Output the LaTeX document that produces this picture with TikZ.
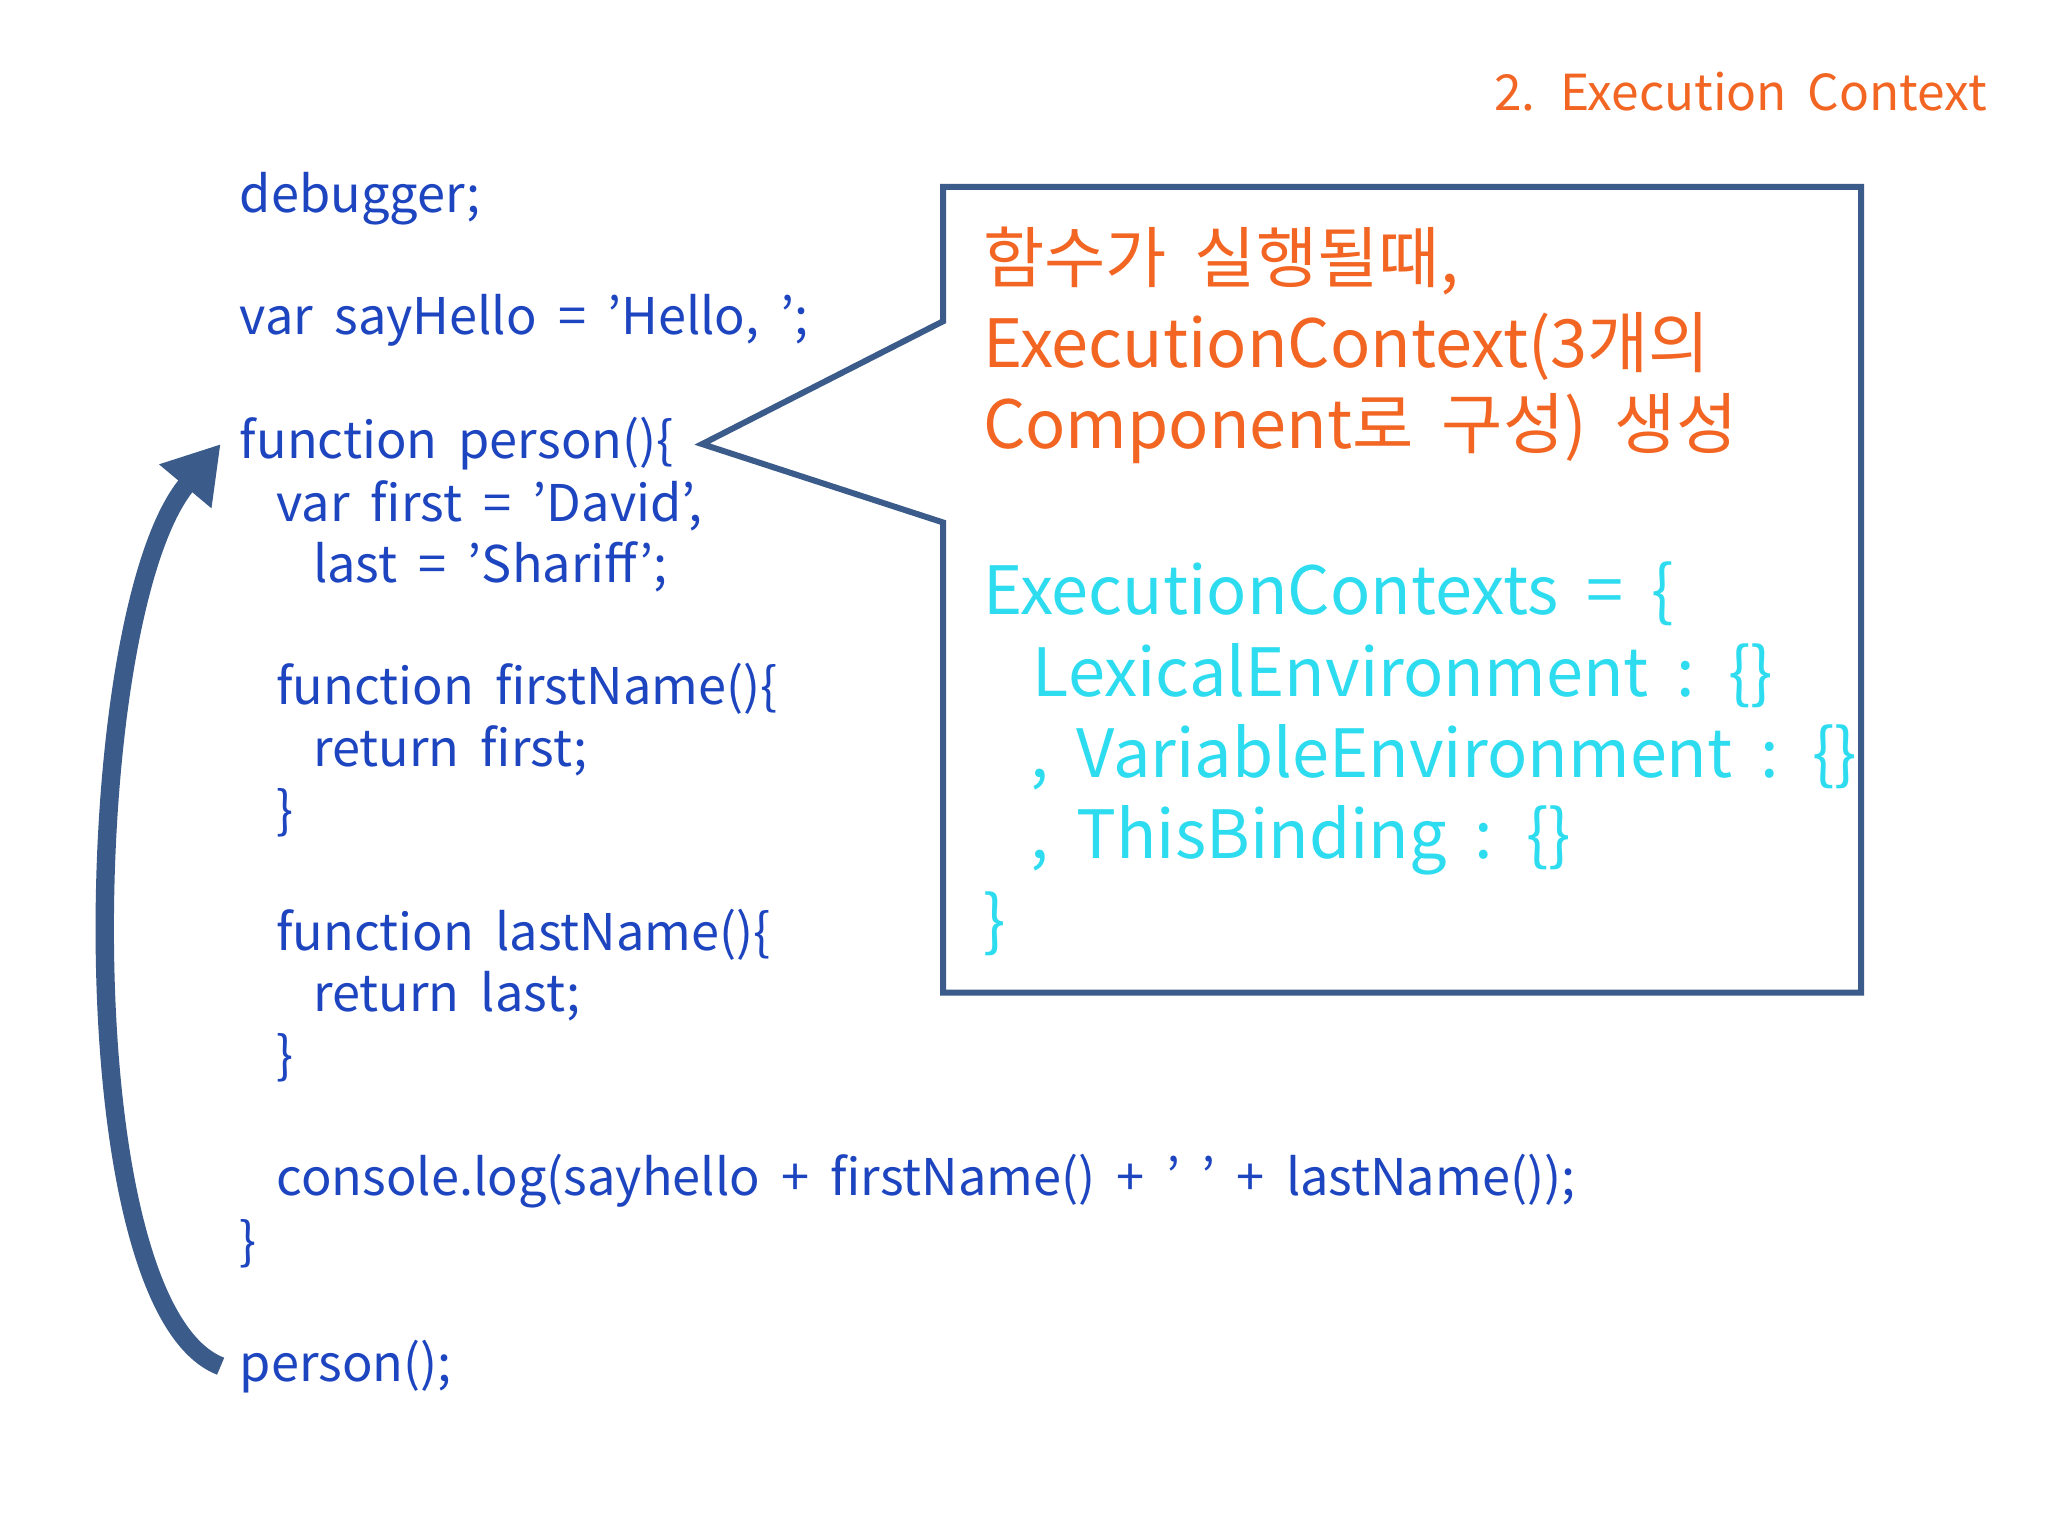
\documentclass[tikz,border=0pt]{standalone}
\usepackage{fontspec}
\setmainfont{Noto Sans CJK KR}[Ligatures=ResetAll]
\usetikzlibrary{arrows.meta}
\definecolor{codeblue}{HTML}{1E45C0}
\definecolor{boxline}{HTML}{3B5B8A}
\definecolor{hotorange}{HTML}{F26522}
\definecolor{lightcyan}{HTML}{2EDCF0}
\newcommand{\widespace}{\spaceskip=0.42em\relax}
\tikzset{
  code/.style={anchor=west, inner sep=0pt, text=codeblue, font=\fontsize{11}{13}\selectfont\widespace},
  bigline/.style={anchor=west, inner sep=0pt, font=\fontsize{14.5}{17}\selectfont\widespace},
}
\begin{document}
\begin{tikzpicture}[x=0.01cm,y=-0.01cm]
  \useasboundingbox (0,0) rectangle (1568,1176);
  \fill[white] (0,0) rectangle (1568,1176);

  % Title
  \node[anchor=east, inner sep=0pt, text=hotorange, font=\fontsize{10.8}{13}\selectfont\widespace] (title) at (1522,70) {2. Execution Context};

  % Code
  \node[code] (dbg) at (183,152) {debugger;};
  \node[code] (hello) at (183,245) {var sayHello = 'Hello, ';};
  \node[code] (fn) at (183,340) {function person()\{};
  \node[code] (first) at (211,387) {var first = 'David',};
  \node[code] (last) at (239,434) {last = 'Shariff';};
  \node[code] (fnfirst) at (211,527) {function firstName()\{};
  \node[code] (retfirst) at (239,575) {return first;};
  \node[code] (endfirst) at (211,622) {\}};
  \node[code] (fnlast) at (211,716) {function lastName()\{};
  \node[code] (retlast) at (239,763) {return last;};
  \node[code] (endlast) at (211,810) {\}};
  \node[code] (log) at (211,904) {console.log(sayhello + firstName() + ' ' + lastName());};
  \node[code] (endfn) at (183,952) {\}};
  \node[code] (call) at (183,1046) {person();};

  % Callout box
  \draw[boxline, line width=1.3pt, line join=miter]
    (722,143) -- (1425,143) -- (1425,760) -- (722,760) -- (722,400)
    -- ([xshift=6pt]fn.east) -- (722,246) -- cycle;

  % Callout text
  \node[bigline, text=hotorange] (ko1) at (752,200) {함수가 실행될때,};
  \node[bigline, text=hotorange] (ko2) at (752,265) {ExecutionContext(3개의};
  \node[bigline, text=hotorange] (ko3) at (752,328) {Component로 구성) 생성};
  \node[bigline, text=lightcyan] (ec) at (752,455) {ExecutionContexts = \{};
  \node[bigline, text=lightcyan] (lex) at (790,517) {LexicalEnvironment : \{\}};
  \node[bigline, text=lightcyan] (var) at (788,580) {, VariableEnvironment : \{\}};
  \node[bigline, text=lightcyan] (this) at (788,643) {, ThisBinding : \{\}};
  \node[bigline, text=lightcyan] (ecend) at (752,707) {\}};

  % Call arrow
  \draw[boxline, line width=4pt, -{Triangle[length=12pt,width=14pt]}]
    ([xshift=-4pt]call.west) .. controls (50,1000) and (60,470) .. ([xshift=-4pt]fn.west);
\end{tikzpicture}
\end{document}
